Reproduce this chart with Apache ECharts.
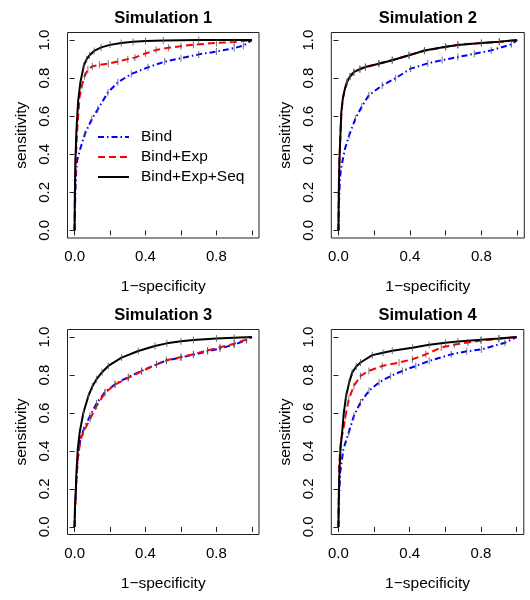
<!DOCTYPE html>
<html>
<head>
<meta charset="utf-8">
<script src="https://cdn.jsdelivr.net/npm/echarts@6/dist/echarts.min.js"></script>
<style>html,body{margin:0;padding:0;background:#fff}#c{width:530px;height:600px}</style>
</head>
<body>
<div id="c"></div>
<script>
// ---- data ----
const seriesNames = ['Bind', 'Bind+Exp', 'Bind+Exp+Seq'];
const panelTitles = ['Simulation 1', 'Simulation 2', 'Simulation 3', 'Simulation 4'];
const xTicks = [0, 0.2, 0.4, 0.6, 0.8, 1.0];
const xTickLabels = [0, 0.4, 0.8];
const yTicks = [0, 0.2, 0.4, 0.6, 0.8, 1.0];
const xLabel = '1\u2212specificity';
const yLabel = 'sensitivity';

const sim1Bind = [[0,0],[0.003,0.15],[0.008,0.3],[0.015,0.37],[0.029,0.42],[0.058,0.507],[0.097,0.584],[0.131,0.637],[0.188,0.725],[0.244,0.778],[0.32,0.822],[0.414,0.857],[0.508,0.887],[0.6,0.905],[0.7,0.925],[0.8,0.94],[0.9,0.958],[0.952,0.971],[1,1]];
const sim1Exp = [[0,0],[0.002,0.2],[0.008,0.4],[0.016,0.55],[0.028,0.7],[0.041,0.76],[0.056,0.81],[0.075,0.845],[0.1,0.862],[0.14,0.87],[0.19,0.876],[0.244,0.888],[0.3,0.9],[0.34,0.908],[0.4,0.93],[0.46,0.948],[0.53,0.96],[0.6,0.968],[0.67,0.976],[0.8,0.985],[0.9,0.99],[1,1]];
const sim1Seq = [[0,0],[0.001,0.15],[0.004,0.35],[0.01,0.52],[0.02,0.68],[0.033,0.78],[0.052,0.866],[0.068,0.9],[0.084,0.92],[0.11,0.943],[0.15,0.962],[0.2,0.975],[0.263,0.985],[0.33,0.991],[0.4,0.995],[0.5,0.998],[0.7,1],[1,1]];

const sim2Bind = [[0,0],[0.003,0.15],[0.008,0.27],[0.015,0.33],[0.037,0.43],[0.06,0.5],[0.095,0.587],[0.13,0.65],[0.17,0.71],[0.245,0.762],[0.32,0.8],[0.404,0.85],[0.5,0.878],[0.58,0.895],[0.668,0.911],[0.76,0.928],[0.855,0.946],[0.968,0.978],[1,1]];
const sim2Exp = [[0,0],[0.002,0.21],[0.005,0.36],[0.011,0.5],[0.016,0.61],[0.024,0.69],[0.035,0.74],[0.048,0.78],[0.065,0.808],[0.086,0.83],[0.12,0.847],[0.151,0.858],[0.226,0.877],[0.301,0.895],[0.395,0.921],[0.481,0.944],[0.6,0.964],[0.668,0.975],[0.8,0.985],[0.9,0.991],[1,1]];
const sim2Seq = [[0,0],[0.002,0.2],[0.005,0.35],[0.011,0.5],[0.016,0.62],[0.024,0.69],[0.035,0.74],[0.048,0.78],[0.065,0.81],[0.086,0.832],[0.12,0.848],[0.151,0.859],[0.226,0.876],[0.301,0.894],[0.395,0.92],[0.481,0.945],[0.6,0.965],[0.668,0.974],[0.8,0.985],[0.9,0.992],[1,1]];

const sim3Bind = [[0,0],[0.003,0.12],[0.01,0.25],[0.018,0.36],[0.033,0.465],[0.05,0.51],[0.087,0.585],[0.124,0.65],[0.171,0.71],[0.228,0.752],[0.303,0.79],[0.378,0.822],[0.462,0.857],[0.518,0.876],[0.6,0.893],[0.67,0.907],[0.75,0.925],[0.82,0.94],[0.9,0.96],[0.97,0.985],[1,1]];
const sim3Exp = [[0,0],[0.003,0.1],[0.01,0.236],[0.018,0.358],[0.033,0.46],[0.05,0.5],[0.087,0.568],[0.124,0.638],[0.171,0.705],[0.228,0.75],[0.303,0.785],[0.378,0.82],[0.462,0.855],[0.518,0.878],[0.6,0.895],[0.67,0.91],[0.75,0.93],[0.82,0.946],[0.9,0.965],[0.97,0.988],[1,1]];
const sim3Seq = [[0,0],[0.002,0.1],[0.005,0.15],[0.01,0.28],[0.018,0.41],[0.029,0.5],[0.05,0.603],[0.078,0.69],[0.1,0.74],[0.124,0.778],[0.155,0.815],[0.19,0.848],[0.265,0.892],[0.359,0.927],[0.453,0.953],[0.52,0.967],[0.6,0.978],[0.67,0.985],[0.8,0.993],[0.9,0.997],[1,1]];

const sim4Bind = [[0,0],[0.003,0.15],[0.01,0.289],[0.028,0.41],[0.058,0.498],[0.087,0.586],[0.124,0.656],[0.171,0.717],[0.228,0.761],[0.293,0.795],[0.359,0.822],[0.434,0.848],[0.509,0.874],[0.633,0.909],[0.72,0.925],[0.802,0.935],[0.934,0.97],[1,1]];
const sim4Exp = [[0,0],[0.004,0.323],[0.015,0.463],[0.025,0.5],[0.04,0.586],[0.058,0.673],[0.087,0.743],[0.124,0.795],[0.171,0.822],[0.246,0.848],[0.34,0.866],[0.415,0.883],[0.49,0.909],[0.577,0.945],[0.65,0.96],[0.727,0.972],[0.8,0.982],[0.9,0.991],[1,1]];
const sim4Seq = [[0,0],[0.002,0.15],[0.006,0.3],[0.012,0.42],[0.021,0.5],[0.03,0.6],[0.043,0.69],[0.06,0.76],[0.077,0.813],[0.1,0.845],[0.124,0.866],[0.19,0.905],[0.25,0.918],[0.302,0.928],[0.415,0.944],[0.509,0.96],[0.6,0.97],[0.67,0.977],[0.8,0.986],[0.9,0.992],[1,1]];

const panels = [
  [sim1Bind, sim1Exp, sim1Seq],
  [sim2Bind, sim2Exp, sim2Seq],
  [sim3Bind, sim3Exp, sim3Seq],
  [sim4Bind, sim4Exp, sim4Seq]
];

// ---- layout / style ----
const FONT = '"Liberation Sans", Arial, Helvetica, sans-serif';
const grids = [
  {left: 67.5, top: 32.5, width: 191.5, height: 205.5},
  {left: 331.3, top: 32.5, width: 193, height: 205.5},
  {left: 67.5, top: 329.5, width: 191.5, height: 205},
  {left: 331.3, top: 329.5, width: 192.5, height: 205}
];
const lineStyles = [
  {color: '#0000ff', width: 2, type: [6, 3, 1.5, 3]},
  {color: '#ff0000', width: 2, type: [7, 4]},
  {color: '#000000', width: 2, type: 'solid'}
];

const option = {
  animation: false,
  backgroundColor: '#fff',
  textStyle: {fontFamily: FONT},
  grid: grids.map(g => Object.assign({show: true, borderColor: '#222', borderWidth: 1, containLabel: false}, g)),
  xAxis: grids.map((g, i) => ({
    gridIndex: i, type: 'value', min: -0.04, max: 1.04,
    name: xLabel, nameLocation: 'middle', nameGap: 41,
    nameTextStyle: {fontSize: 15.5, color: '#000', fontFamily: FONT},
    axisLine: {show: false},
    splitLine: {show: false},
    axisTick: {show: true, inside: false, length: 5, customValues: xTicks, lineStyle: {color: '#222'}},
    axisLabel: {show: true, customValues: xTickLabels, margin: 11.5, fontSize: 15, color: '#000', fontFamily: FONT,
      formatter: v => v.toFixed(1)}
  })),
  yAxis: grids.map((g, i) => ({
    gridIndex: i, type: 'value', min: -0.04, max: 1.04,
    name: yLabel, nameLocation: 'middle', nameGap: 38,
    nameTextStyle: {fontSize: 15.5, color: '#000', fontFamily: FONT},
    axisLine: {show: false},
    splitLine: {show: false},
    axisTick: {show: true, inside: false, length: 5, customValues: yTicks, lineStyle: {color: '#222'}},
    axisLabel: {show: true, customValues: yTicks, margin: 15, rotate: 90, fontSize: 15, color: '#000', fontFamily: FONT,
      formatter: v => v.toFixed(1)}
  })),
  legend: {
    data: seriesNames, orient: 'vertical', left: 97, top: 129, padding: 0,
    itemWidth: 31, itemHeight: 16, itemGap: 4, selectedMode: false,
    itemStyle: {opacity: 0},
    textStyle: {fontSize: 15.5, color: '#000', fontFamily: FONT, padding: [0, 0, 0, 7]}
  },
  graphic: grids.map((g, i) => ({
    type: 'text', x: g.left + g.width / 2, y: g.top - 14.5, silent: true,
    style: {text: panelTitles[i], fontSize: 16.5, fontWeight: 'bold', fontFamily: FONT, fill: '#000',
      align: 'center', verticalAlign: 'middle'}
  })),
  series: []
};

panels.forEach((curves, pi) => {
  curves.forEach((data, ci) => {
    option.series.push({
      type: 'line', name: seriesNames[ci], xAxisIndex: pi, yAxisIndex: pi,
      data: data, showSymbol: false, symbol: 'none', silent: true, z: 3 + ci,
      itemStyle: {color: lineStyles[ci].color},
      lineStyle: lineStyles[ci]
    });
    option.series.push({
      type: 'scatter', name: 'bars' + pi + ci, xAxisIndex: pi, yAxisIndex: pi,
      data: data.filter(p => p[0] >= 0.04 && p[0] <= 0.97),
      symbol: 'rect', symbolSize: [1, 7], silent: true, z: 6,
      itemStyle: {color: '#555', opacity: 0.8}
    });
  });
});

const chart = echarts.init(document.getElementById('c'), null, {renderer: 'canvas'});
chart.setOption(option);
</script>
</body>
</html>
